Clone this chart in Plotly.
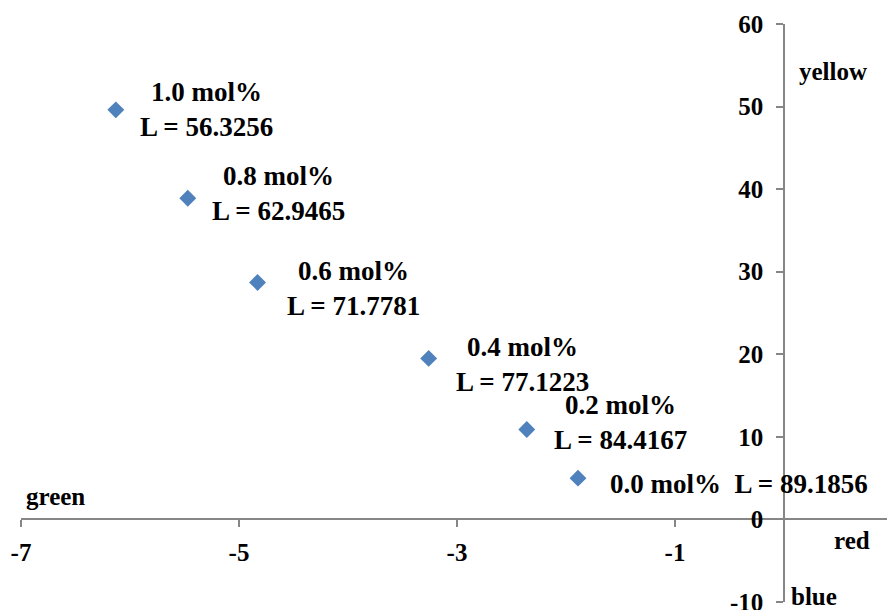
import plotly.graph_objects as go

# Data (CIE a*, b* coordinates)
a_vals = [-6.13, -5.47, -4.83, -3.26, -2.36, -1.89]
b_vals = [49.6, 38.9, 28.7, 19.5, 10.9, 5.0]
conc_labels = ["1.0 mol%", "0.8 mol%", "0.6 mol%", "0.4 mol%", "0.2 mol%", "0.0 mol%"]
L_labels = ["L = 56.3256", "L = 62.9465", "L = 71.7781", "L = 77.1223", "L = 84.4167", "L = 89.1856"]
x_ticks = [-7, -5, -3, -1, 1]
y_ticks = [-10, 0, 10, 20, 30, 40, 50, 60]

# label placement offsets (pixels) relative to each point
label_dx = [22, 22, 27, 25, 25, 30]
label_dy = [0, 5, -6, -6, 7, -6]

FONT = "Liberation Serif, Times New Roman, serif"
AX_COLOR = "#868686"

fig = go.Figure()
fig.add_trace(go.Scatter(
    x=a_vals, y=b_vals, mode="markers",
    marker=dict(symbol="diamond", size=13, color="#4F81BD",
                line=dict(width=0)),
    hoverinfo="skip", showlegend=False,
))

# data labels
for i, (xv, yv, c, L) in enumerate(zip(a_vals, b_vals, conc_labels, L_labels)):
    if i == len(a_vals) - 1:
        txt = "<b>" + c + "\u00a0\u00a0" + L + "</b>"
    else:
        txt = "<b>" + c + "<br>" + L + "</b>"
    fig.add_annotation(
        x=xv, y=yv, xref="x", yref="y", text=txt, showarrow=False,
        xanchor="left", yanchor="middle", align="center",
        xshift=label_dx[i], yshift=label_dy[i],
        font=dict(family=FONT, size=27, color="black"),
    )

# color direction labels
for txt, px, py in [("green", 0.039, 0.183), ("red", 0.953, 0.1065),
                    ("yellow", 0.931, 0.917), ("blue", 0.909, 0.0095)]:
    fig.add_annotation(
        x=px, y=py, xref="paper", yref="paper", text="<b>" + txt + "</b>",
        showarrow=False, xanchor="center", yanchor="middle",
        font=dict(family=FONT, size=25, color="black"),
    )

fig.update_layout(
    width=887, height=602,
    margin=dict(l=13, r=2, t=16, b=8, autoexpand=False),
    paper_bgcolor="white", plot_bgcolor="white",
    xaxis=dict(
        range=[-7, 1], tickvals=x_ticks,
        ticktext=["<b>%d</b>" % v for v in x_ticks],
        anchor="free", position=10 / 70,
        showline=True, linecolor=AX_COLOR, linewidth=1.5,
        ticks="outside", ticklen=7, tickcolor=AX_COLOR, tickwidth=1.5,
        showgrid=False, zeroline=False, automargin=False,
        ticklabelstandoff=4, ticklabeloverflow="allow",
        tickfont=dict(family=FONT, size=25, color="black"),
    ),
    yaxis=dict(
        range=[-10, 60], tickvals=y_ticks,
        ticktext=["<b>%d</b>" % v for v in y_ticks],
        anchor="free", position=7 / 8, side="left",
        showline=True, linecolor=AX_COLOR, linewidth=1.5,
        ticks="outside", ticklen=7, tickcolor=AX_COLOR, tickwidth=1.5,
        showgrid=False, zeroline=False, automargin=False,
        ticklabelstandoff=8, ticklabeloverflow="allow",
        tickfont=dict(family=FONT, size=25, color="black"),
    ),
)

fig.write_html("out.html")
